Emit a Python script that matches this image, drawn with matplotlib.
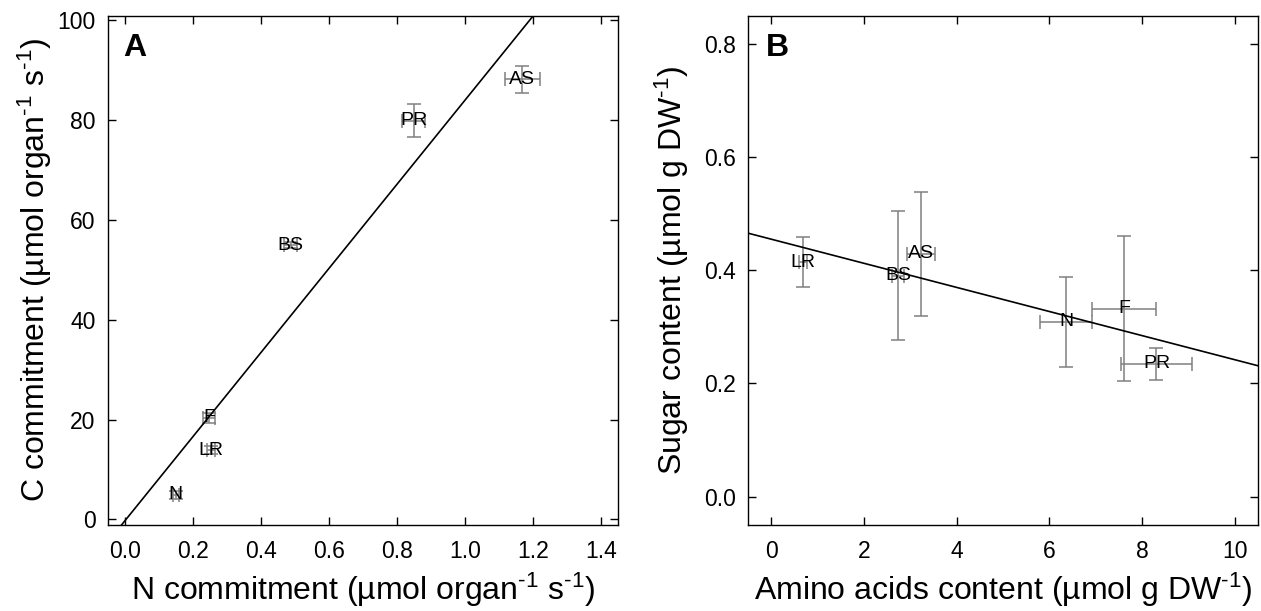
import matplotlib
matplotlib.use("Agg")
import matplotlib.pyplot as plt
import numpy as np

plt.rcParams['font.family'] = ['Liberation Sans', 'DejaVu Sans']
plt.rcParams['mathtext.fontset'] = 'custom'
plt.rcParams['mathtext.rm'] = 'Liberation Sans'
plt.rcParams['mathtext.it'] = 'Liberation Sans'

# panel A: N vs C commitment per organ
organs_a = ['AS', 'PR', 'BS', 'F', 'LR', 'N']
n_commit = [1.169, 0.849, 0.487, 0.247, 0.254, 0.150]
n_err = [0.051, 0.035, 0.020, 0.018, 0.012, 0.010]
c_commit = [88.2, 79.9, 54.9, 20.4, 13.9, 5.0]
c_err = [2.7, 3.4, 0.6, 1.0, 0.8, 0.8]
fit_a = (84.2, -0.25)  # slope, intercept

# panel B: amino acids vs sugar content
organs_b = ['LR', 'BS', 'AS', 'N', 'F', 'PR']
aa = [0.68, 2.74, 3.24, 6.36, 7.61, 8.31]
aa_err = [0.09, 0.13, 0.30, 0.57, 0.69, 0.76]
sugar = [0.414, 0.390, 0.429, 0.309, 0.332, 0.235]
sugar_err = [0.044, 0.114, 0.110, 0.079, 0.128, 0.028]
fit_b = (-0.0213, 0.455)

grey = '#808080'
inv = r'$^{\text{-1}}$'

fig = plt.figure(figsize=(12.61, 6.11), dpi=100)
axA = fig.add_axes([0.0856, 0.1408, 0.4044, 0.8336])
axB = fig.add_axes([0.5932, 0.1408, 0.4044, 0.8336])


def style(ax):
    ax.tick_params(direction='in', top=True, right=True, length=6, width=1,
                   labelsize=16.5)
    ax.tick_params(axis='x', pad=11)
    ax.tick_params(axis='y', pad=9)
    for s in ax.spines.values():
        s.set_linewidth(1.0)


# A
axA.errorbar(n_commit, c_commit, xerr=n_err, yerr=c_err, fmt='none',
             ecolor=grey, elinewidth=1.1, capsize=5, capthick=1.1)
for lab, x, y in zip(organs_a, n_commit, c_commit):
    axA.text(x, y, lab, ha='center', va='center', fontsize=14)
xs = np.array([-0.05, 1.45])
axA.plot(xs, fit_a[0] * xs + fit_a[1], color='black', lw=1.2)
axA.set_xlim(-0.05, 1.45)
axA.set_ylim(-1.1, 100.9)
axA.set_xticks(np.arange(0, 1.41, 0.2))
axA.set_xticklabels([f'{v:.1f}' for v in np.arange(0, 1.41, 0.2)])
axA.set_yticks(np.arange(0, 101, 20))
axA.set_xlabel('N commitment (µmol organ' + inv + ' s' + inv + ')', fontsize=23)
axA.set_ylabel('C commitment (µmol organ' + inv + ' s' + inv + ')', fontsize=23)
axA.xaxis.set_label_coords(0.5, -0.09)
axA.yaxis.set_label_coords(-0.106, 0.5)
axA.text(0.029, 0.965, 'A', transform=axA.transAxes, fontsize=23,
         fontweight='bold', ha='left', va='top')
style(axA)

# B
axB.errorbar(aa, sugar, xerr=aa_err, yerr=sugar_err, fmt='none',
             ecolor=grey, elinewidth=1.1, capsize=5, capthick=1.1)
for lab, x, y in zip(organs_b, aa, sugar):
    axB.text(x, y, lab, ha='center', va='center', fontsize=14)
xs = np.array([-0.5, 10.5])
axB.plot(xs, fit_b[0] * xs + fit_b[1], color='black', lw=1.2)
axB.set_xlim(-0.5, 10.5)
axB.set_ylim(-0.05, 0.85)
axB.set_xticks(np.arange(0, 11, 2))
axB.set_yticks(np.arange(0, 0.81, 0.2))
axB.set_yticklabels([f'{v:.1f}' for v in np.arange(0, 0.81, 0.2)])
axB.set_xlabel('Amino acids content (µmol g DW' + inv + ')', fontsize=23)
axB.set_ylabel('Sugar content (µmol g DW' + inv + ')', fontsize=23)
axB.xaxis.set_label_coords(0.5, -0.09)
axB.yaxis.set_label_coords(-0.112, 0.5)
axB.text(0.035, 0.965, 'B', transform=axB.transAxes, fontsize=23,
         fontweight='bold', ha='left', va='top')
style(axB)

fig.savefig('out.png', dpi=100)
